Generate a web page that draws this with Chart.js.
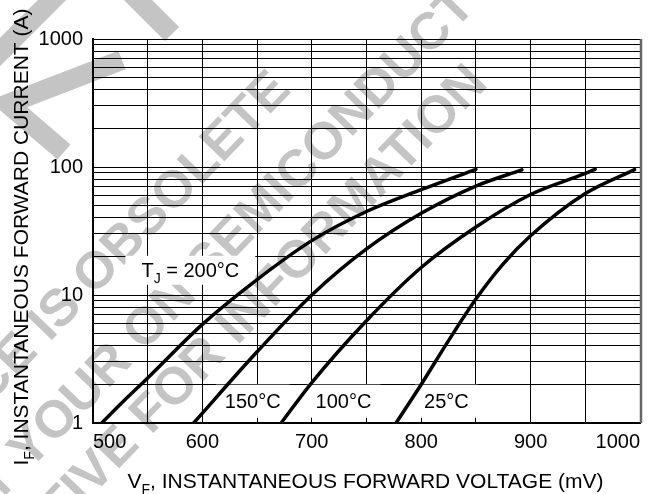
<!DOCTYPE html>
<html>
<head>
<meta charset="utf-8">
<script src="https://cdn.jsdelivr.net/npm/chart.js@4.4.0/dist/chart.umd.min.js"></script>
<style>
  html, body { margin: 0; padding: 0; background: #fff; }
  #wrap { width: 664px; height: 494px; }
</style>
</head>
<body>
<div id="wrap"><canvas id="myChart" width="664" height="494"></canvas></div>
<script>
// forward voltage (mV) vs forward current (A)
const tempNames = ['200°C', '150°C', '100°C', '25°C'];
const voltage200 = [508, 525, 550, 600, 650, 700, 750, 800, 850];
const current200 = [1, 1.4, 2.25, 5.9, 13.2, 26.6, 44.9, 66.5, 96];
const voltage150 = [592, 650, 700, 750, 800, 850, 892];
const current150 = [1, 3.6, 10, 22.9, 43.5, 71, 95];
const voltage100 = [672, 700, 750, 800, 850, 900, 950, 959];
const current100 = [1, 2.07, 6.3, 16.4, 34, 61, 89, 96];
const voltage25 = [777, 800, 825, 850, 875, 900, 950, 995];
const current25 = [1, 2.0, 4.4, 9.3, 17.5, 29, 62, 95.5];

const xTickLabels = [500, 600, 700, 800, 900, 1000];
const yTickLabels = [1, 10, 100, 1000];

const FONT = "'Liberation Sans', Arial, Helvetica, sans-serif";
Chart.defaults.font.family = FONT;
Chart.defaults.color = '#000';

const xGrid = [];
for (let v = 500; v <= 1000; v += 50) xGrid.push(v);
const yGrid = [];
for (const d of [1, 10, 100]) for (let m = 1; m < 10; m++) yGrid.push(d * m);
yGrid.push(1000);

function toPoints(xs, ys) {
  return xs.map((x, i) => ({ x: x, y: ys[i] }));
}

function curve(label, xs, ys) {
  return {
    label: label,
    data: toPoints(xs, ys),
    borderColor: '#000',
    borderWidth: 3.5,
    borderCapStyle: 'round',
    pointRadius: 0,
    fill: false,
    cubicInterpolationMode: 'monotone'
  };
}

// text with subscripts: parts = [[text, isSub], ...]
function richWidth(ctx, parts, size) {
  let w = 0;
  parts.forEach(p => {
    ctx.font = (p[1] ? Math.round(size * 0.68) : size) + 'px ' + FONT;
    w += ctx.measureText(p[0]).width;
  });
  return w;
}
function drawRich(ctx, parts, x, baseY, size) {
  parts.forEach(p => {
    ctx.font = (p[1] ? Math.round(size * 0.68) : size) + 'px ' + FONT;
    ctx.fillText(p[0], x, p[1] ? baseY + size * 0.28 : baseY);
    x += ctx.measureText(p[0]).width;
  });
}

// where the curve names sit, in data units
const labelSpots = [
  { parts: [['T'], ['J', true], [' = ' + tempNames[0]]], x: 589, y: 15.6, padX: 16, h: 29 },
  { parts: [[tempNames[1]]], x: 646, y: 1.48, padX: 9, h: 33 },
  { parts: [[tempNames[2]]], x: 729, y: 1.48, padX: 9, h: 33 },
  { parts: [[tempNames[3]]], x: 823, y: 1.48, padX: 9, h: 33 }
];

const watermark = {
  id: 'watermark',
  beforeDraw(chart) {
    const ctx = chart.ctx;
    ctx.save();
    ctx.fillStyle = '#fff';
    ctx.fillRect(0, 0, chart.width, chart.height);
    ctx.strokeStyle = '#c4c4c4';
    ctx.lineWidth = 20;
    ctx.lineCap = 'butt';
    ctx.lineJoin = 'miter';
    [[[-10, 62], [62, -10]], [[122, 60], [8, 104], [64, 152]], [[128, -10], [172, 34]]].forEach(seg => {
      ctx.beginPath();
      seg.forEach((p, i) => i ? ctx.lineTo(p[0], p[1]) : ctx.moveTo(p[0], p[1]));
      ctx.stroke();
    });
    ctx.fillStyle = '#c4c4c4';
    ctx.font = 'bold 52px ' + FONT;
    ctx.textAlign = 'right';
    ctx.textBaseline = 'middle';
    [['THIS DEVICE IS OBSOLETE', 282, 81],
     ['CONTACT YOUR ON SEMICONDUCTOR', 520, -58],
     ['REPRESENTATIVE FOR INFORMATION', 479, 75]].forEach(l => {
      ctx.save();
      ctx.translate(l[1], l[2]);
      ctx.rotate(-46 * Math.PI / 180);
      ctx.fillText(l[0], 0, 0);
      ctx.restore();
    });
    ctx.restore();
  }
};

const curveLabels = {
  id: 'curveLabels',
  beforeDatasetsDraw(chart) {
    const { ctx, scales: { x, y } } = chart;
    ctx.save();
    ctx.textAlign = 'left';
    ctx.textBaseline = 'alphabetic';
    labelSpots.forEach(s => {
      const w = richWidth(ctx, s.parts, 20);
      const cx = x.getPixelForValue(s.x);
      const cy = y.getPixelForValue(s.y);
      ctx.fillStyle = '#fff';
      ctx.fillRect(cx - w / 2 - s.padX, cy - s.h / 2, w + 2 * s.padX, s.h);
      ctx.fillStyle = '#000';
      drawRich(ctx, s.parts, cx - w / 2, cy + 7, 20);
    });
    ctx.restore();
  }
};

const axisTitles = {
  id: 'axisTitles',
  afterDraw(chart) {
    const { ctx, chartArea } = chart;
    ctx.save();
    ctx.fillStyle = '#000';
    ctx.textAlign = 'left';
    ctx.textBaseline = 'alphabetic';
    const xt = [['V'], ['F', true], [', INSTANTANEOUS FORWARD VOLTAGE (mV)']];
    const xw = richWidth(ctx, xt, 21);
    drawRich(ctx, xt, (chartArea.left + chartArea.right) / 2 - xw / 2 - 1, 488, 21);
    const yt = [['I'], ['F', true], [', INSTANTANEOUS FORWARD CURRENT (A)']];
    const yw = richWidth(ctx, yt, 21);
    ctx.translate(28, (chartArea.top + chartArea.bottom) / 2 + 6);
    ctx.rotate(-Math.PI / 2);
    drawRich(ctx, yt, -yw / 2, 0, 21);
    ctx.restore();
    // right frame edge
    ctx.save();
    ctx.strokeStyle = '#666';
    ctx.lineWidth = 2.5;
    ctx.beginPath();
    ctx.moveTo(chartArea.right + 1, chartArea.top);
    ctx.lineTo(chartArea.right + 1, chartArea.bottom);
    ctx.stroke();
    ctx.restore();
  }
};

new Chart(document.getElementById('myChart'), {
  type: 'line',
  data: {
    datasets: [
      curve(tempNames[0], voltage200, current200),
      curve(tempNames[1], voltage150, current150),
      curve(tempNames[2], voltage100, current100),
      curve(tempNames[3], voltage25, current25)
    ]
  },
  options: {
    responsive: false,
    devicePixelRatio: 1,
    animation: false,
    layout: { padding: { left: 0, top: 39, right: 24, bottom: 0 } },
    plugins: {
      legend: { display: false },
      tooltip: { enabled: false }
    },
    scales: {
      x: {
        type: 'linear',
        min: 500,
        max: 1000,
        afterBuildTicks: s => { s.ticks = xGrid.map(v => ({ value: v })); },
        afterFit: s => { s.height = 71; },
        ticks: {
          autoSkip: false,
          maxRotation: 0,
          align: 'inner',
          padding: 7,
          font: { size: 20 },
          color: '#000',
          callback: v => xTickLabels.includes(v) ? String(v) : ''
        },
        grid: { color: '#000', lineWidth: 1, drawTicks: false },
        border: { color: '#000', width: 2 }
      },
      y: {
        type: 'logarithmic',
        min: 1,
        max: 1000,
        afterBuildTicks: s => { s.ticks = yGrid.map(v => ({ value: v })); },
        afterFit: s => { s.width = 93; },
        ticks: {
          autoSkip: false,
          padding: 10,
          font: { size: 20 },
          color: '#000',
          callback: v => yTickLabels.includes(v) ? String(v) : ''
        },
        grid: { color: '#000', lineWidth: 1, drawTicks: false },
        border: { color: '#000', width: 2 }
      }
    }
  },
  plugins: [watermark, curveLabels, axisTitles]
});
</script>
</body>
</html>
